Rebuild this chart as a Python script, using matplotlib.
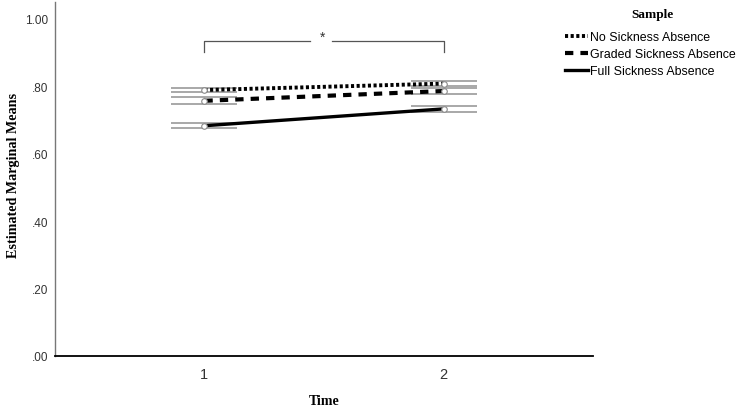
import matplotlib
matplotlib.use("Agg")
import matplotlib.pyplot as plt

time_points = [1, 2]
time_labels = ["1", "2"]
series_names = ["No Sickness Absence", "Graded Sickness Absence", "Full Sickness Absence"]
no_sick = [0.789, 0.808]
graded = [0.757, 0.786]
full = [0.683, 0.733]
no_sick_err = [0.006, 0.007]
graded_err = [0.010, 0.009]
full_err = [0.0075, 0.0085]
y_ticks = [0.0, 0.2, 0.4, 0.6, 0.8, 1.0]
y_tick_labels = [".00", ".20", ".40", ".60", ".80", "1.00"]

fig = plt.figure(figsize=(7.38, 4.14), dpi=100)
ax = fig.add_axes([0.0745, 0.1377, 0.729, 0.855])

styles = [
    dict(linestyle=(0, (0.8, 0.65)), lw=2.8),
    dict(linestyle=(0, (2.0, 1.7)), lw=3.0),
    dict(linestyle="-", lw=2.4),
]
data = [(no_sick, no_sick_err), (graded, graded_err), (full, full_err)]
handles = []
for (vals, errs), st, name in zip(data, styles, series_names):
    ax.errorbar(time_points, vals, yerr=errs, fmt="none", ecolor="#9a9a9a",
                elinewidth=1.0, capsize=24, capthick=1.2, zorder=2)
    h, = ax.plot(time_points, vals, color="black", zorder=3, label=name, **st)
    ax.plot(time_points, vals, linestyle="none", marker="o", ms=4,
            mfc="white", mec="#8a8a8a", mew=0.8, zorder=4)
    handles.append(h)

# significance bracket
ax.plot([1, 1, 1.44], [0.902, 0.933, 0.933], color="#555555", lw=0.9)
ax.plot([1.535, 2, 2], [0.933, 0.933, 0.902], color="#555555", lw=0.9)
ax.text(1.495, 0.925, "*", ha="center", va="bottom", fontsize=10,
        family="Liberation Sans", color="#333333")

ax.set_xlim(0.375, 2.625)
ax.set_ylim(0, 1.05)
ax.set_xticks(time_points)
ax.set_xticklabels(time_labels, family="Liberation Sans", fontsize=10.5, color="#333333")
ax.set_yticks(y_ticks)
ax.set_yticklabels(y_tick_labels, family="Liberation Sans", fontsize=8.5, color="#333333")
ax.tick_params(length=0, pad=8)
ax.tick_params(axis="y", pad=5)
for s in ["top", "right"]:
    ax.spines[s].set_visible(False)
ax.spines["left"].set_color("#777777")
ax.spines["left"].set_linewidth(1.0)
ax.spines["bottom"].set_color("black")
ax.spines["bottom"].set_linewidth(1.3)

ax.set_xlabel("Time", family="Liberation Serif", fontweight="bold", fontsize=10, va="center")
ax.xaxis.set_label_coords(0.5, -0.127)
ax.set_ylabel("Estimated Marginal Means", family="Liberation Serif", fontweight="bold",
              fontsize=10.2, va="center")
ax.yaxis.set_label_coords(-0.078, 0.514)

fig.text(652 / 738, 1 - 15 / 414, "Sample", family="Liberation Serif", fontweight="bold",
         fontsize=9.5, ha="center", va="center")
leg = fig.legend(handles=handles, labels=series_names, loc="upper left",
                 bbox_to_anchor=(565 / 738, 1 - 32 / 414), frameon=False,
                 prop=dict(family="Liberation Sans", size=8.9),
                 handlelength=1.85, handletextpad=0.2, labelspacing=0.42,
                 borderpad=0.0, borderaxespad=0.0)

fig.savefig("out.png", dpi=100)
